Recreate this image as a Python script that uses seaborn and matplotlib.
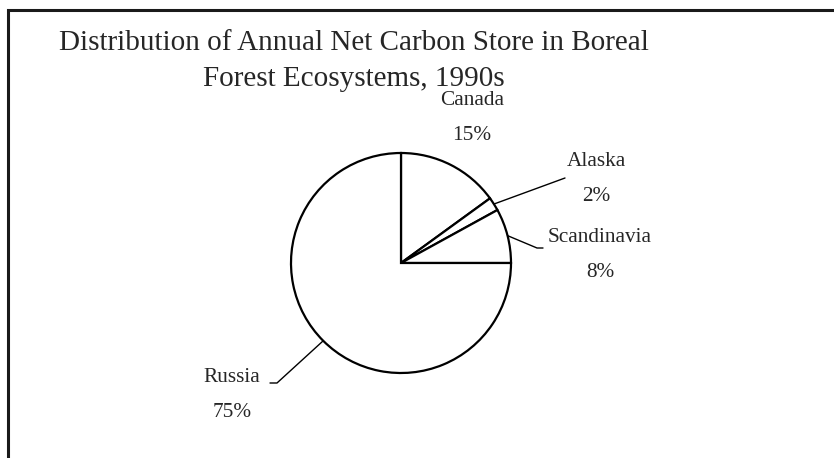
import numpy as np
import matplotlib
matplotlib.use("Agg")
import matplotlib.pyplot as plt
import seaborn as sns

# data
regions = ["Canada", "Alaska", "Scandinavia", "Russia"]
shares = [15, 2, 8, 75]

# label text positions (pixel coords, y up) and leader line elbows
label_xy = {"Canada": (472, 340), "Alaska": (596, 279),
            "Scandinavia": (600, 203), "Russia": (232, 63)}
leader_end = {"Alaska": [(565, 280)],
              "Scandinavia": [(537, 210), (543, 210)],
              "Russia": [(277, 75), (270, 75)]}

sns.set_style("white")
plt.rcParams["font.family"] = ["Liberation Serif", "DejaVu Serif"]

W, H = 834, 458
fig = plt.figure(figsize=(W / 100, H / 100), dpi=100)
ax = fig.add_axes([0, 0, 1, 1])

# frame: only top and left edges are visible in the reference
ax.plot([8, 8, W + 5], [-5, H - 10, H - 10], color="#1a1a1a", lw=2.2,
        solid_joinstyle="miter", clip_on=False)

center = (401, 195)
radius = 110
wedges, _ = ax.pie(shares, startangle=90, counterclock=False,
                   center=center, radius=radius, frame=True,
                   colors=["white"] * len(shares),
                   wedgeprops=dict(edgecolor="black", linewidth=1.6))
ax.set_xlim(0, W)
ax.set_ylim(0, H)
ax.set_aspect("equal")
ax.axis("off")

for w, name, val in zip(wedges, regions, shares):
    x, y = label_xy[name]
    ax.text(x, y, f"{name}\n{val}%", ha="center", va="center",
            fontsize=15.3, linespacing=2.12)
    if name in leader_end:
        mid = np.deg2rad((w.theta1 + w.theta2) / 2)
        px = center[0] + radius * np.cos(mid)
        py = center[1] + radius * np.sin(mid)
        pts = [(px, py)] + leader_end[name]
        ax.plot([p[0] for p in pts], [p[1] for p in pts], color="black", lw=1.0)

ax.text(354, H - 61, "Distribution of Annual Net Carbon Store in Boreal\nForest Ecosystems, 1990s",
        ha="center", va="center", fontsize=21, linespacing=1.46)

fig.savefig("out.png", dpi=100)
